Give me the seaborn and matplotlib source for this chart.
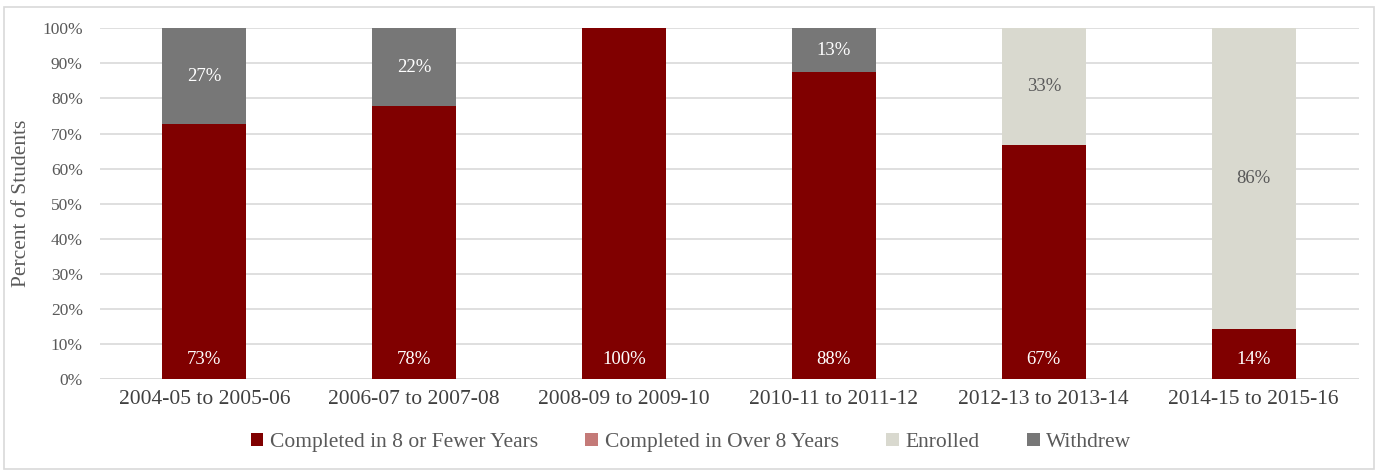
import matplotlib.pyplot as plt
import seaborn as sns
import numpy as np
from matplotlib.patches import Rectangle, Patch

# data (percent of students)
cohorts = ['2004-05 to 2005-06', '2006-07 to 2007-08', '2008-09 to 2009-10',
           '2010-11 to 2011-12', '2012-13 to 2013-14', '2014-15 to 2015-16']
completed_8 = [72.7, 77.8, 100.0, 87.5, 66.7, 14.3]
completed_over8 = [0, 0, 0, 0, 0, 0]
enrolled = [0, 0, 0, 0, 33.3, 85.7]
withdrew = [27.3, 22.2, 0, 12.5, 0, 0]

series = ['Completed in 8 or Fewer Years', 'Completed in Over 8 Years', 'Enrolled', 'Withdrew']
colors = ['#800000', '#C47A78', '#D9D9CF', '#777777']
label_colors = ['white', 'white', '#595959', 'white']

sns.set_theme(style='white')
plt.rcParams['font.family'] = ['Liberation Serif', 'DejaVu Serif']

fig, ax = plt.subplots(figsize=(13.82, 4.72), dpi=100)
fig.subplots_adjust(left=0.072, right=0.983, top=0.94, bottom=0.197)

ax.yaxis.grid(True, color='#D9D9D9', linewidth=1.2)
ax.set_axisbelow(True)

bottom = np.zeros(len(cohorts))
all_vals = [completed_8, completed_over8, enrolled, withdrew]
for name, vals, col, lcol in zip(series, all_vals, colors, label_colors):
    vals = np.array(vals, dtype=float)
    sns.barplot(x=cohorts, y=vals, bottom=bottom, color=col, width=0.4,
                ax=ax, saturation=1, edgecolor='none')
    for i, v in enumerate(vals):
        if v <= 0:
            continue
        if name == series[0]:
            y = bottom[i] + 5.5
        else:
            y = bottom[i] + v / 2
        # round half up like the original labels
        ax.text(i, y, f'{int(v + 0.5)}%', ha='center', va='center', color=lcol, fontsize=13.5)
    bottom += vals

ax.set_ylim(0, 100)
ax.set_xlim(-0.5, len(cohorts) - 0.5)
ax.set_yticks(np.arange(0, 101, 10))
ax.set_yticklabels([f'{t}%' for t in range(0, 101, 10)], color='#595959', fontsize=12.5)
ax.set_xticks(range(len(cohorts)))
ax.set_xticklabels(cohorts, color='#404040', fontsize=15.5)
ax.tick_params(axis='x', length=0, pad=8)
ax.tick_params(axis='y', length=0, pad=12)
ax.set_ylabel('Percent of Students', color='#595959', fontsize=15.5, labelpad=8)
ax.set_xlabel('')
sns.despine(ax=ax, left=True, bottom=True, top=True, right=True)
ax.axhline(0, color='#D9D9D9', linewidth=1.2, zorder=0)

handles = [Patch(facecolor=c, edgecolor='none') for c in colors]
fig.legend(handles, series, loc='center', bbox_to_anchor=(0.5, 0.063), ncol=4,
           frameon=False, fontsize=15.5, handlelength=0.6, handleheight=0.6,
           handletextpad=0.3, columnspacing=2.2, labelcolor='#595959')

fig.patches.append(Rectangle((0.003, 0.006), 0.991, 0.98, transform=fig.transFigure,
                             fill=False, edgecolor='#D9D9D9', linewidth=1.2))

fig.savefig('out.png', dpi=100)
